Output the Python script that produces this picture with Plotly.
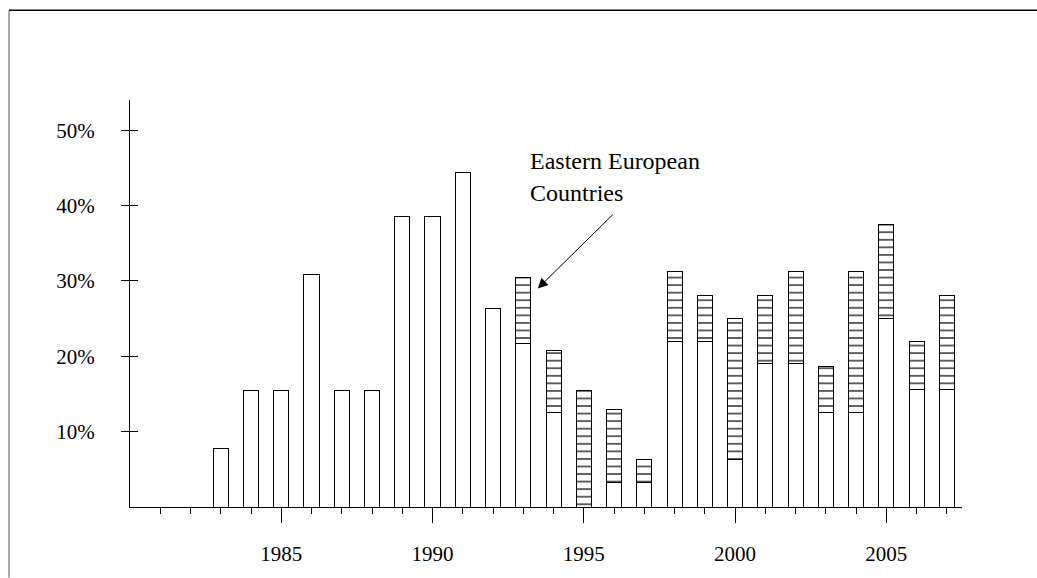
import plotly.graph_objects as go

# ---- data ----
years = list(range(1981, 2008))
other_share = [None, None, 7.7, 15.4, 15.4, 30.8, 15.4, 15.4, 38.5, 38.5, 44.4, 26.3,
               21.7, 12.5, 0.0, 3.2, 3.2, 22.0, 22.0, 6.3, 19.0, 19.0, 12.5, 12.5,
               25.0, 15.6, 15.6]
eastern_share = [None] * 12 + [8.7, 8.3, 15.4, 9.7, 3.1, 9.3, 6.1, 18.7, 9.1, 12.3,
                               6.2, 18.8, 12.5, 6.3, 12.5]
ytick_vals = [10, 20, 30, 40, 50]
ytick_text = ["10%", "20%", "30%", "40%", "50%"]
xtick_vals = [1985, 1990, 1995, 2000, 2005]
xminor_vals = [y for y in years if y not in xtick_vals]
annot_lines = ["Eastern European", "Countries"]

W, H = 1037, 578
ML, MR, MT, MB = 130, 75, 100, 66.5
FONT = "Liberation Serif"

fig = go.Figure()
fig.add_trace(go.Bar(
    x=years, y=other_share, width=0.5,
    marker=dict(color="white", line=dict(color="black", width=1)),
    showlegend=False, hoverinfo="skip"))
fig.add_trace(go.Bar(
    x=years, y=eastern_share, width=0.5,
    marker=dict(color="white", line=dict(color="black", width=1),
                pattern=dict(shape="-", size=7.556, solidity=0.16,
                             fgcolor="black", bgcolor="white", fillmode="replace")),
    showlegend=False, hoverinfo="skip"))

fig.update_layout(
    width=W, height=H, barmode="stack",
    margin=dict(l=ML, r=MR, t=MT, b=MB),
    paper_bgcolor="white", plot_bgcolor="white",
    font=dict(family=FONT, size=21, color="black"),
    xaxis=dict(range=[1980, 2007.5], showgrid=False, zeroline=False,
               showline=True, linecolor="black", linewidth=1,
               tickvals=xtick_vals, ticks="outside", ticklen=15, tickwidth=1,
               tickcolor="black", ticklabelstandoff=13,
               minor=dict(tickvals=xminor_vals, ticks="outside", ticklen=6,
                          tickwidth=1, tickcolor="black", showgrid=False)),
    yaxis=dict(range=[0, 54], showgrid=False, zeroline=False,
               showline=True, linecolor="black", linewidth=1,
               tickvals=ytick_vals, ticktext=ytick_text, ticks="outside",
               ticklen=8, tickwidth=1, tickcolor="black", ticklabelstandoff=22,
               minor=dict(tickvals=ytick_vals, ticks="inside", ticklen=8,
                          tickwidth=1, tickcolor="black", showgrid=False)),
)

# arrow
fig.add_annotation(x=1993.48, y=29.0, ax=1996.01, ay=39.0, xref="x", yref="y",
                   axref="x", ayref="y", text="", showarrow=True,
                   arrowhead=2, arrowsize=2, arrowwidth=1, arrowcolor="black",
                   standoff=0, startstandoff=0)
# text
for line, yv in zip(annot_lines, [45.9, 41.7]):
    fig.add_annotation(x=1993.17, y=yv, xref="x", yref="y", text=line,
                       showarrow=False, xanchor="left", yanchor="middle",
                       font=dict(family=FONT, size=24, color="black"))

# outer frame (figure border)
pw, ph = W - ML - MR, H - MT - MB
def px_x(p):
    return (p - ML) / pw
def px_y(p):
    return (H - MB - p) / ph
fig.add_shape(type="line", xref="paper", yref="paper",
              x0=px_x(9), x1=px_x(W + 5), y0=px_y(9.3), y1=px_y(9.3),
              line=dict(color="black", width=1.5))
fig.add_shape(type="line", xref="paper", yref="paper",
              x0=px_x(9), x1=px_x(9), y0=px_y(9.3), y1=px_y(H + 5),
              line=dict(color="#555555", width=1))

fig.write_html("out.html", config={"displayModeBar": False},
               post_script="document.body.style.margin='0';document.body.style.padding='0';")
